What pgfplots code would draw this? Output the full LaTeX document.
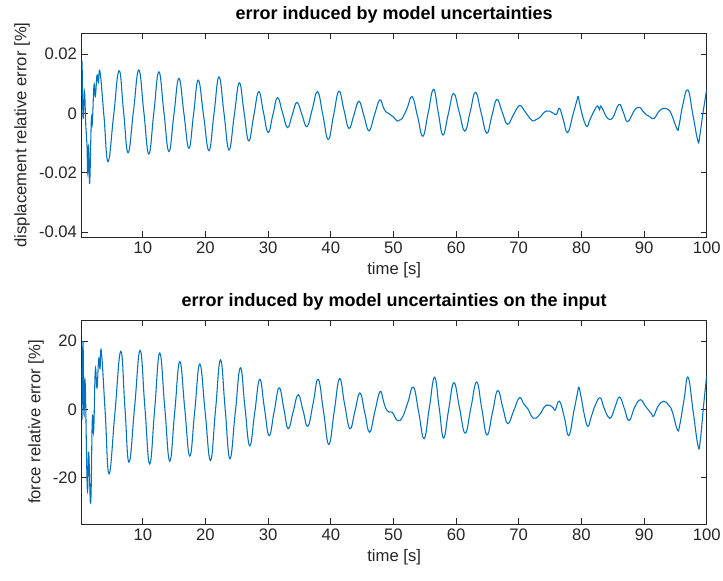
\documentclass[border=0pt]{standalone}
\usepackage{pgfplots}
\pgfplotsset{compat=1.18}
\usepackage{fontspec}
\setmainfont{Liberation Sans}
\definecolor{mlblue}{RGB}{0,114,189}
\definecolor{mlgray}{RGB}{38,38,38}
\pgfplotsset{
 mystyle/.style={
  scale only axis, width=468.75pt, height=153pt,
  xmin=0.25, xmax=100,
  xtick={10,20,...,100},
  tick align=inside,
  major tick length=4.5pt,
  axis line style={mlgray, line width=0.5pt},
  every tick/.style={mlgray, line width=0.5pt},
  tick label style={font=\fontsize{12.5}{14}\selectfont, text=mlgray},
  label style={font=\fontsize{12.5}{14}\selectfont, text=mlgray},
  title style={font=\bfseries\fontsize{13.5}{15}\selectfont, text=black, yshift=-2pt},
  /pgf/number format/assume math mode=true,
  scaled y ticks=false,
  xlabel={time [s]},
 }
}
\begin{document}
\begin{tikzpicture}
\path[use as bounding box] (-61.3pt,-258pt) rectangle (481pt,177.75pt);
\begin{axis}[mystyle, at={(0pt,0pt)},
  ymin=-0.0417, ymax=0.0271,
  ytick={-0.04,-0.02,0,0.02}, yticklabels={-0.04,-0.02,0,0.02},
  ylabel={displacement relative error [\%]},
  title={error induced by model uncertainties}]
\addplot[mlblue, line width=0.8pt, smooth, tension=0.75] coordinates {
(0.25,0.006)(0.3,0.0171)(0.45,-0.001)(0.6,0.004)(0.72,0.0067)(0.9,-0.004)(1.09,-0.0107)(1.2,-0.02)(1.35,-0.011)(1.52,-0.0236)(1.78,-0.0023)(1.94,-0.0035)(2.21,0.0095)(2.42,0.0056)(2.69,0.0129)(2.9,0.0105)(3.17,0.014)
(3.81,-0.0012)(4.45,-0.0163)(5.33,-0.001)(6.21,0.0144)(6.93,0.0006)(7.65,-0.0133)(8.5,0.0006)(9.36,0.0146)(10.16,0.0005)(10.96,-0.0137)(11.76,0.0002)(12.56,0.014)(13.36,0.0006)(14.16,-0.0129)(14.96,-0.0005)(15.76,0.0118)(16.56,0)(17.36,-0.0118)(18.1,-0.0003)(18.85,0.0112)(19.7,-0.0007)(20.56,-0.0126)(21.36,-0.0002)(22.16,0.0123)(22.96,0)(23.76,-0.0124)(24.58,-0.001)(25.4,0.0103)(26.15,0.0005)(26.9,-0.0093)(27.7,-0.001)(28.5,0.0073)(29.25,0.0004)(30,-0.0065)(30.75,-0.0006)(31.5,0.0053)(32.3,0.0002)(33.1,-0.0048)(33.85,-0.0005)(34.6,0.0037)(35.4,-0.0004)(36.2,-0.0045)(37.05,0.0014)(37.9,0.0073)(38.75,-0.0007)(39.6,-0.0088)(40.45,-0.0006)(41.3,0.0075)(42.1,0.0012)(42.9,-0.0051)(43.7,-0.0005)(44.5,0.0041)(45.3,-0.0009)(46.1,-0.0059)(46.95,-0.0007)(47.8,0.0045)(48.4,0.002)(48.8,0.0005)(49.2,0)(49.6,-0.0006)(50,-0.0012)(50.6,-0.0026)(51,-0.0022)(51.4,-0.0017)(52.2,0.0018)(53,0.0056)(53.85,-0.001)(54.7,-0.0077)(55.55,0.0002)(56.4,0.0081)(57.15,0.0004)(57.9,-0.0073)(58.75,-0.0003)(59.6,0.0067)(60.5,0.0004)(61.4,-0.006)(62.25,0.0005)(63.1,0.0071)(64,0.0002)(64.9,-0.0067)(65.7,-0.001)(66.5,0.0047)(67.35,0.0005)(68.2,-0.0037)(69.15,-0.0005)(70.1,0.0026)(70.8,0.0012)(71.4,-0.0006)(72.2,-0.0025)(72.7,-0.0022)(73.3,-0.0015)(74.4,0.0008)(75.4,0.0002)(76,-0.0004)(76.5,0.0017)(77.1,-0.002)(77.8,-0.0065)(78.65,-0.0005)(79.3,0.0045)(79.5,0.0056)(79.7,0.0035)(80.3,-0.0017)(80.9,-0.0045)(81.3,-0.0025)(82.1,0.0011)(82.6,0.0025)(82.9,0.0012)(83.1,0.0025)(83.6,0.0005)(84.2,-0.0017)(85,-0.0015)(86,0.003)(86.7,0.0003)(87.4,-0.0028)(88.5,0.0011)(89.3,0.002)(89.8,0.0007)(90.4,-0.0005)(90.9,-0.0011)(91.6,-0.0018)(92.3,0.0005)(93.1,0.0017)(93.9,0.0012)(94.4,-0.0004)(95.3,-0.0054)(95.6,-0.004)(96.2,0.003)(97,0.0079)(97.8,-0.0005)(98.6,-0.0093)(98.9,-0.0075)(99.4,0)(100,0.0081)
};
\end{axis}
\begin{axis}[mystyle, at={(0pt,-215.25pt)},
  ymin=-33.6, ymax=26.2,
  ytick={-20,0,20}, yticklabels={-20,0,20},
  ylabel={force relative error [\%]},
  title={error induced by model uncertainties on the input}]
\addplot[mlblue, line width=0.8pt, smooth, tension=0.75] coordinates {
(0.25,12)(0.3,-2)(0.45,20)(0.6,-1.5)(0.8,8)(1.14,-23.3)(1.36,-12.6)(1.68,-27.5)(1.94,-2.8)(2.16,-6.2)(2.42,11.6)(2.69,6.3)(2.96,14.8)(3.17,11.9)(3.38,17)
(4.0,-1)(4.61,-18.9)(5.55,-1)(6.48,17)(7.14,0.7)(7.8,-15.5)(8.7,0.9)(9.57,17.3)(10.33,0.6)(11.1,-16)(11.9,0.2)(12.7,16.5)(13.5,0.6)(14.3,-15.2)(15.1,-0.6)(15.9,14)(16.7,0.1)(17.5,-13.7)(18.3,-0.2)(19.1,13.3)(19.95,-0.8)(20.8,-15)(21.6,-0.3)(22.4,14.5)(23.15,0)(23.9,-14.5)(24.75,-1.1)(25.57,12.2)(26.3,0.7)(27.06,-10.7)(27.86,-1)(28.66,8.8)(29.4,0.5)(30.16,-7.7)(30.96,-0.7)(31.76,6.3)(32.5,0.3)(33.2,-5.7)(34,-0.7)(34.8,4.3)(35.57,-0.3)(36.34,-5.0)(37.2,1.9)(38,8.8)(38.85,-0.7)(39.7,-10.3)(40.55,-0.6)(41.4,9.0)(42.2,1.6)(43.06,-5.7)(43.86,-0.5)(44.66,4.8)(45.43,-1)(46.2,-6.7)(47.03,-0.7)(47.86,5.2)(48.4,2.5)(48.77,0.3)(49.3,-0.8)(49.84,-0.9)(50.64,-3.3)(51.44,-2.3)(52.3,2)(53.2,6.5)(54.05,-1)(54.9,-8.6)(55.73,0.4)(56.56,9.4)(57.3,0.5)(58,-8.4)(58.8,-0.3)(59.65,7.8)(60.55,0.4)(61.46,-7.0)(62.37,0.5)(63.28,8.0)(64.1,0.3)(64.93,-7.5)(65.8,-1)(66.64,5.5)(67.45,0.6)(68.24,-4.2)(69.2,-0.4)(70.1,3.4)(70.8,1.6)(71.44,0.2)(72.34,-2.6)(73.3,-1.6)(74.37,1.2)(75.44,0.6)(75.8,-0.3)(76.5,2.4)(77.3,-2.5)(78,-7.7)(78.8,-0.6)(79.4,5)(79.6,6.5)(79.97,3.5)(80.5,-1.8)(81.04,-5)(81.57,-2.2)(82.26,1.4)(83,3.4)(83.54,0.8)(84.24,-2.1)(84.77,-2.3)(85.4,0.8)(86.1,3.6)(86.85,0.3)(87.6,-3.3)(88.5,0.6)(89.4,2.8)(90.2,1)(91.17,-1.3)(91.54,-2.0)(92.24,0.9)(93.14,2.4)(94,1.1)(94.53,-0.8)(95.33,-6)(95.7,-4.6)(96.4,3)(97.04,9.4)(97.85,-0.8)(98.64,-10.9)(99,-8.8)(99.5,1)(100,9.9)
};
\end{axis}
\end{tikzpicture}
\end{document}
